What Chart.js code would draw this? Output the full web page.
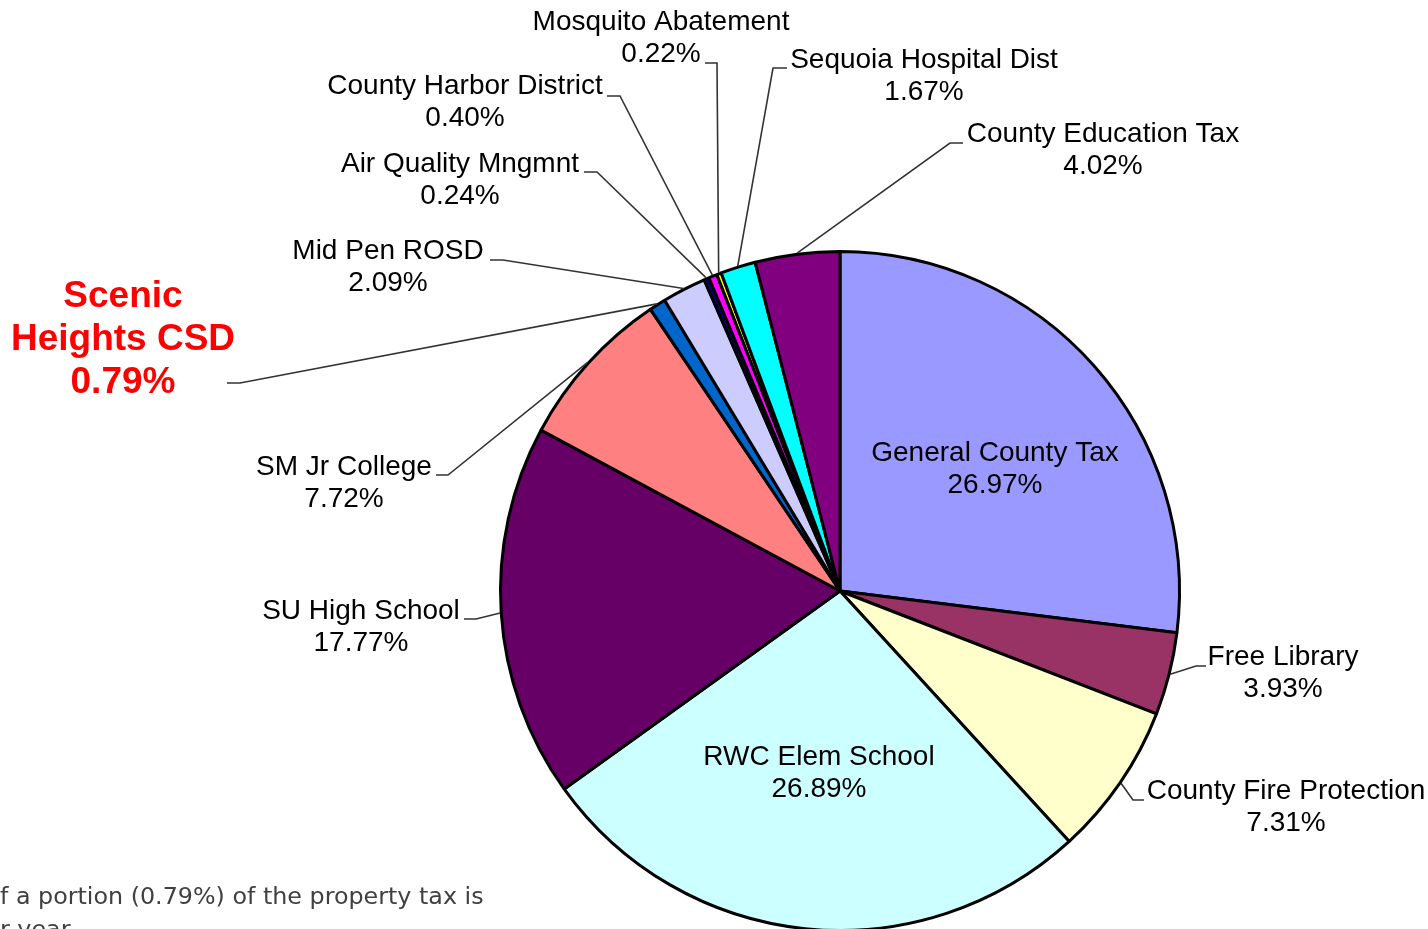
<!DOCTYPE html>
<html>
<head>
<meta charset="utf-8">
<script src="https://cdn.jsdelivr.net/npm/chart.js@4.4.0/dist/chart.umd.min.js"></script>
<style>
  html, body { margin: 0; padding: 0; background: #fff; overflow: hidden; }
  #wrap { position: relative; width: 1428px; height: 940px; }
</style>
</head>
<body>
<div id="wrap"><canvas id="taxChart"></canvas></div>
<script>
// property tax distribution (percent), clockwise from 12 o'clock
const districts = [
  "General County Tax",
  "Free Library",
  "County Fire Protection",
  "RWC Elem School",
  "SU High School",
  "SM Jr College",
  "Scenic Heights CSD",
  "Mid Pen ROSD",
  "Air Quality Mngmnt",
  "County Harbor District",
  "Mosquito Abatement",
  "Sequoia Hospital Dist",
  "County Education Tax"
];
const shares = [26.97, 3.93, 7.31, 26.89, 17.77, 7.72, 0.79, 2.09, 0.24, 0.40, 0.22, 1.67, 4.02];
const sliceColors = [
  "#9999FF", "#993366", "#FFFFCC", "#CCFFFF", "#660066", "#FF8080", "#0066CC",
  "#CCCCFF", "#000080", "#FF00FF", "#FFFF00", "#00FFFF", "#800080"
];
const footnote = ["f a portion (0.79%) of the property tax is", "r year"];

// where each label sits (text centre, leader elbow, leader end)
var labelSpots = [
  { x: 995, y: 453 },
  { x: 1283, y: 657, elbow: [1196, 666], end: [1206, 666] },
  { x: 1286, y: 791, elbow: [1133, 800], end: [1144, 800] },
  { x: 819, y: 757 },
  { x: 361, y: 611, elbow: [476, 619], end: [464, 619] },
  { x: 344, y: 467, elbow: [448, 475], end: [436, 475] },
  { x: 123, y: 297, elbow: [240, 383], end: [227, 383], big: true, lines: ["Scenic", "Heights CSD"] },
  { x: 388, y: 251, elbow: [503, 260], end: [490, 260] },
  { x: 460, y: 164, elbow: [597, 172], end: [584, 172] },
  { x: 465, y: 86, elbow: [620, 96], end: [607, 96] },
  { x: 661, y: 22, elbow: [717, 63], end: [705, 63] },
  { x: 924, y: 60, elbow: [773, 68], end: [787, 68] },
  { x: 1103, y: 134, elbow: [950, 143], end: [963, 143] }
];

const pieLabels = {
  id: "pieLabels",
  afterDatasetsDraw(chart) {
    var ctx = chart.ctx;
    var meta = chart.getDatasetMeta(0);
    ctx.save();
    // leader lines
    ctx.strokeStyle = "#333333";
    ctx.lineWidth = 1.6;
    for (let i = 0; i < meta.data.length; i++) {
      let spot = labelSpots[i];
      if (!spot.elbow) continue;
      let arc = meta.data[i];
      let p = arc.getProps(["x", "y", "startAngle", "endAngle", "outerRadius"], true);
      let mid = (p.startAngle + p.endAngle) / 2;
      let sx = p.x + Math.cos(mid) * (p.outerRadius + 1);
      let sy = p.y + Math.sin(mid) * (p.outerRadius + 1);
      ctx.beginPath();
      ctx.moveTo(sx, sy);
      ctx.lineTo(spot.elbow[0], spot.elbow[1]);
      ctx.lineTo(spot.end[0], spot.end[1]);
      ctx.stroke();
    }
    // texts
    ctx.textAlign = "center";
    ctx.textBaseline = "middle";
    for (let i = 0; i < meta.data.length; i++) {
      let spot = labelSpots[i];
      let lines = (spot.lines || [districts[i]]).concat([shares[i].toFixed(2) + "%"]);
      if (spot.big) {
        ctx.fillStyle = "#FF0000";
        ctx.font = "bold 37px 'Liberation Sans', Arial, sans-serif";
        lines.forEach((t, k) => ctx.fillText(t, spot.x, spot.y + k * 43));
      } else {
        ctx.fillStyle = "#000000";
        ctx.font = "28px 'Liberation Sans', Arial, sans-serif";
        lines.forEach((t, k) => ctx.fillText(t, spot.x, spot.y + k * 32));
      }
    }
    // cut-off note at the bottom left
    ctx.fillStyle = "#404040";
    ctx.textAlign = "left";
    ctx.font = "22px 'DejaVu Sans', sans-serif";
    var w = ctx.measureText(footnote[0]).width;
    var size = 22 * 483 / w;
    ctx.font = size.toFixed(1) + "px 'DejaVu Sans', sans-serif";
    ctx.fillText(footnote[0], 0, 898);
    ctx.fillText(footnote[1], 0, 931);
    ctx.restore();
  }
};

var taxctx = document.getElementById("taxChart");
var taxChart = new Chart(taxctx, {
  type: "pie",
  data: {
    labels: districts,
    datasets: [
      {
        data: shares,
        backgroundColor: sliceColors,
        borderColor: "#000000",
        borderWidth: 3
      }
    ]
  },
  options: {
    responsive: true,
    maintainAspectRatio: false,
    animation: false,
    layout: { padding: { left: 499, right: 247, top: 250, bottom: 8 } },
    plugins: {
      legend: { display: false },
      tooltip: { enabled: false }
    }
  },
  plugins: [pieLabels]
});
</script>
</body>
</html>
